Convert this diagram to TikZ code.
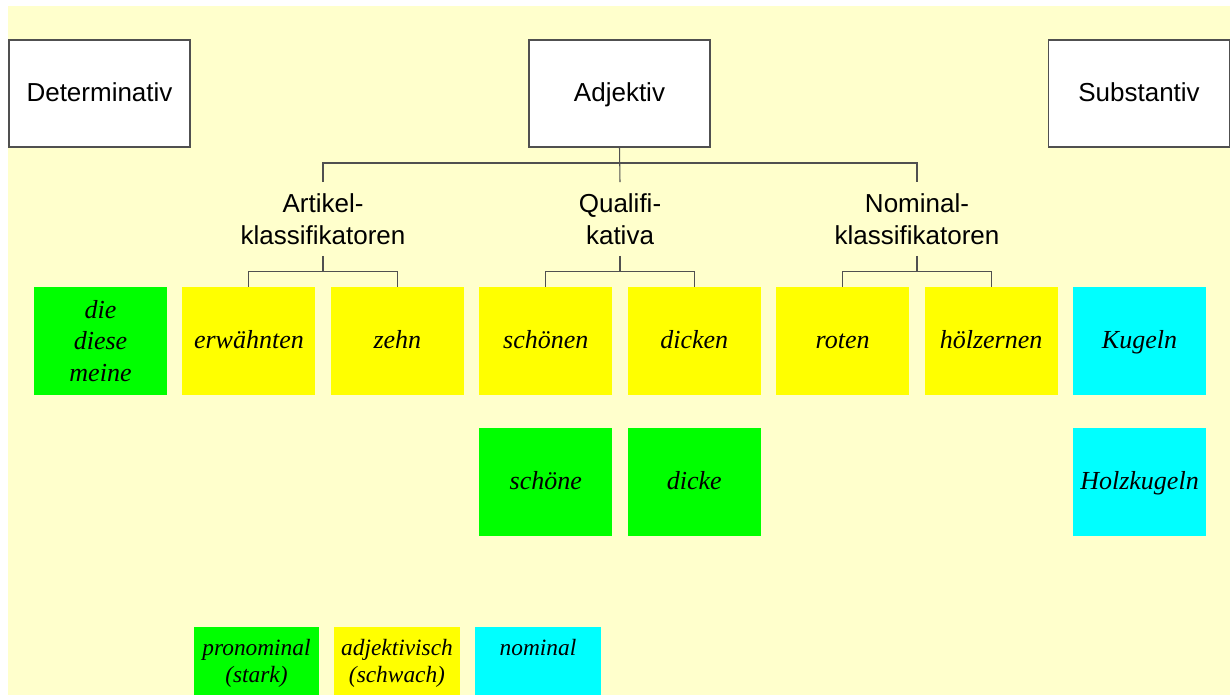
\documentclass[tikz,border=0pt]{standalone}
\usepackage{fontspec}
\setmainfont{Liberation Serif}
\setsansfont{Liberation Sans}
\usepackage{tikz}
\usetikzlibrary{positioning}
\definecolor{paper}{HTML}{FFFFCC}
\definecolor{strong}{HTML}{00FF00}
\definecolor{weak}{HTML}{FFFF00}
\definecolor{noun}{HTML}{00FFFF}
\definecolor{rule}{HTML}{505050}
\tikzset{cat/.style={draw=rule,line width=0.8pt,fill=white,minimum width=3.62cm,minimum height=2.14cm,inner sep=0pt,text height=0.38cm,text depth=0.06cm,font=\sffamily\fontsize{14.8}{18}\selectfont},
  grp/.style={align=center,inner sep=0pt,minimum height=1.46cm,font=\sffamily\fontsize{14.8}{18.2}\selectfont},
  wd/.style={minimum width=2.66cm,minimum height=2.16cm,inner sep=0pt,align=center,font=\itshape\fontsize{14.8}{17.9}\selectfont},
  wd1/.style={wd,text height=0.36cm,text depth=0.06cm},
  key/.style={minimum width=2.52cm,minimum height=1.6cm,inner sep=0pt,anchor=north,align=center,text height=0.56cm,text depth=1.04cm,font=\itshape\fontsize{13.3}{15.4}\selectfont},
  key2/.style={key,text height=1.1cm,text depth=0.5cm},
  tree/.style={draw=rule,line width=0.6pt}}

\begin{document}
\begin{tikzpicture}[x=0.02cm,y=-0.02cm]
\clip (0,0) rectangle (1230,695);
\fill[paper] (8,6) rectangle (1230,695);
% word classes
\node[cat] (det) at (99.5,93.5) {Determinativ};
\node[cat] (adj) at (619.5,93.5) {Adjektiv};
\node[cat] (sub) at (1139,93.5) {Substantiv};
\node[grp] (art) at (323,219) {Artikel-\\klassifikatoren};
\node[grp] (qual) at (620,219) {Qualifi-\\kativa};
\node[grp] (nom) at (917,219) {Nominal-\\klassifikatoren};
% first row
\node[wd,fill=strong] (die) at (100.5,341) {die\\diese\\meine};
\foreach \name/\txt/\col [count=\i from 1] in {erw/erwähnten/weak,zehn/zehn/weak,schoenen/schönen/weak,dicken/dicken/weak,roten/roten/weak,hoelz/hölzernen/weak,kugeln/Kugeln/noun}
  {\node[wd1,fill=\col] (\name) at (100.5+148.43*\i,341) {\txt};}
% second row
\node[wd1,fill=strong,below=0.64cm of schoenen] (schoene) {schöne};
\node[wd1,fill=strong,below=0.64cm of dicken] (dicke) {dicke};
\node[wd1,fill=noun,below=0.64cm of kugeln] (holzk) {Holzkugeln};
% tree
\coordinate (bus) at (620,163);
\draw[tree] (adj.south) -- (qual.north);
\draw[tree] (art.north) |- (bus) -| (nom.north);
\foreach \up/\l/\r in {art/erw/zehn,qual/schoenen/dicken,nom/roten/hoelz}{
  \draw[tree] (\up.south) -- ++(0,15.5) coordinate (\up fork);
  \draw[tree] (\l.north) |- (\up fork) -| (\r.north);}
% legend
\node[key2,fill=strong] (kstark) at (256.5,627) {pronominal\\(stark)};
\node[key2,fill=weak] (kschwach) at (397,627) {adjektivisch\\(schwach)};
\node[key,fill=noun] (knom) at (538,627) {nominal};
\end{tikzpicture}
\end{document}
